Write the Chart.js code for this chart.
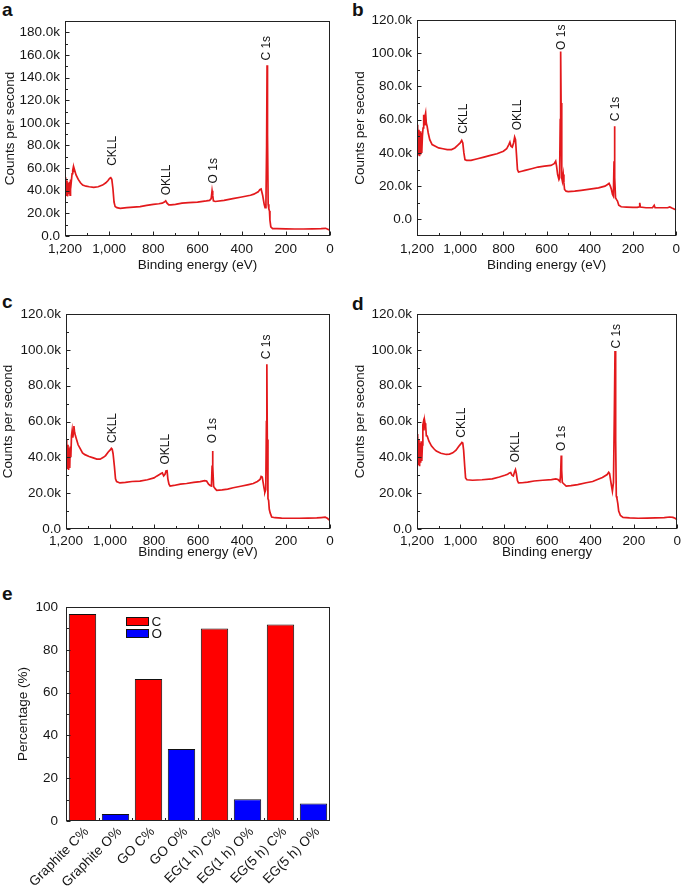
<!DOCTYPE html>
<html>
<head>
<meta charset="utf-8">
<script src="https://cdn.jsdelivr.net/npm/chart.js@4.4.0/dist/chart.umd.min.js"></script>
<style>
    body { margin: 0; background: #fff; width: 685px; height: 889px; position: relative; overflow: hidden; font-family: "Liberation Sans", Arial, sans-serif; }
    canvas { position: absolute; }
    .tag { position: absolute; font-weight: bold; font-size: 19px; color: #111; line-height: 1; }
</style>
</head>
<body>
<div class="tag" style="left:2px;top:0px">a</div>
<div class="tag" style="left:352px;top:0px">b</div>
<div class="tag" style="left:2px;top:292px">c</div>
<div class="tag" style="left:352px;top:294px">d</div>
<div class="tag" style="left:2px;top:584px">e</div>

<canvas id="chartA" width="340" height="280" style="left:0;top:0"></canvas>
<canvas id="chartB" width="345" height="280" style="left:340px;top:0"></canvas>
<canvas id="chartC" width="340" height="290" style="left:0;top:280px"></canvas>
<canvas id="chartD" width="345" height="290" style="left:340px;top:280px"></canvas>
<canvas id="chartE" width="340" height="309" style="left:0;top:580px"></canvas>

<script>
// ---- data: [binding energy (eV), counts per second (k)] ----
const specA = [
    [1200, 52], [1198, 38], [1196, 50], [1193, 36], [1191, 49], [1188, 35], [1186, 47], [1183, 37],
    [1180, 48], [1177, 36], [1175, 50], [1172, 47], [1168, 55], [1165, 58], [1162, 61], [1159, 57],
    [1156, 58], [1150, 54], [1140, 50], [1130, 47], [1120, 45], [1105, 44], [1090, 43.5], [1070, 43],
    [1050, 43.5], [1030, 45], [1015, 47], [1005, 49], [998, 51], [993, 51.5], [988, 50], [983, 42],
    [978, 30], [973, 26], [965, 25], [950, 24.5], [920, 25], [890, 25.5], [860, 26], [830, 27],
    [800, 28], [775, 28.5], [760, 29], [750, 30], [744, 31], [738, 29], [730, 27.5], [720, 27.5],
    [700, 28], [670, 29], [640, 29.5], [600, 30], [560, 31], [545, 31.5], [538, 33], [534, 40],
    [531, 36], [528, 31], [520, 30.5], [480, 31.5], [440, 33], [400, 34.5], [360, 36], [345, 37],
    [335, 38], [325, 39], [318, 41], [312, 41.5], [305, 36], [298, 28], [294, 25], [290, 30],
    [287, 80], [285, 151], [283, 90], [280, 28], [277, 24], [274, 22], [272, 14], [268, 8],
    [260, 6.5], [240, 6.5], [200, 6.3], [160, 6.2], [120, 6.2], [80, 6.3], [40, 6.5], [20, 6.8],
    [10, 6], [0, 5]
];
const specB = [
    [1200, 57], [1198, 40], [1196, 55], [1193, 39], [1191, 54], [1188, 38], [1186, 53], [1183, 39],
    [1181, 52], [1178, 40], [1175, 50], [1172, 55], [1169, 63], [1166, 57], [1163, 62], [1160, 64],
    [1157, 58], [1153, 56], [1148, 52], [1141, 48], [1130, 45], [1115, 44], [1100, 43], [1080, 42.5],
    [1060, 42], [1040, 42], [1025, 43], [1012, 44.5], [1000, 46], [993, 47.5], [988, 46], [983, 40],
    [978, 36], [970, 35.5], [950, 35.5], [920, 36.5], [890, 37.5], [860, 38.5], [830, 39.5], [800, 41],
    [785, 42.5], [775, 45], [770, 46.5], [765, 44], [759, 43.5], [753, 46], [748, 49.5], [744, 48],
    [740, 40], [735, 30], [730, 28.5], [715, 29], [700, 29.5], [670, 30.5], [640, 31.5], [610, 32],
    [580, 32.5], [565, 33.5], [558, 35], [554, 32], [549, 27], [543, 24], [540, 25], [537, 60],
    [535, 101], [533, 70], [530, 25], [527, 23], [523, 27], [520, 22], [517, 18], [510, 17],
    [500, 16.7], [470, 17], [440, 17.5], [400, 18.2], [360, 19], [330, 20], [318, 21], [311, 21.7],
    [305, 20], [300, 18], [295, 15], [291, 14], [288, 35], [286, 56], [284, 25], [281, 13],
    [277, 12], [272, 11], [266, 8.5], [255, 7.6], [230, 7.4], [200, 7.2], [180, 7.2], [172, 7.5],
    [169, 10], [166, 7.4], [140, 7], [110, 7], [102, 8.5], [98, 7], [70, 7], [40, 7],
    [30, 7.5], [20, 6.8], [10, 6.2], [0, 5.6]
];
const specC = [
    [1200, 50], [1198, 35], [1196, 48], [1193, 34], [1191, 47], [1188, 33], [1186, 45], [1183, 34],
    [1181, 46], [1178, 40], [1175, 52], [1172, 55], [1169, 51], [1166, 54], [1164, 57.5], [1161, 54],
    [1157, 52], [1152, 50], [1145, 47], [1136, 45], [1125, 42.5], [1114, 41.5], [1095, 40.5], [1076, 39.7],
    [1060, 39], [1045, 39], [1030, 40], [1020, 41], [1008, 43], [1000, 44], [994, 45], [990, 44.5],
    [986, 42], [980, 35], [975, 28], [970, 26.5], [955, 25.7], [930, 26], [900, 26.5], [864, 26.7],
    [830, 27.5], [800, 28.5], [788, 29.5], [775, 30.4], [768, 31], [762, 31.3], [756, 29.6], [750, 30.5],
    [745, 32.5], [741, 33], [737, 28], [732, 25], [727, 24], [710, 24.3], [680, 25], [652, 25.4],
    [620, 26], [590, 26.4], [570, 27], [561, 26.8], [552, 25], [545, 24.3], [539, 24], [536, 35],
    [534, 43.5], [532, 35], [529, 23.8], [522, 22.5], [515, 21.6], [490, 21.8], [465, 22.3], [440, 23],
    [400, 24], [370, 24.8], [349, 25.4], [330, 26.5], [318, 27.6], [313, 29.3], [308, 29], [304, 26],
    [300, 23], [296, 20.5], [292, 22], [289, 60], [287, 92], [285, 50], [282, 17], [279, 16],
    [276, 11], [272, 9], [265, 6.7], [250, 6.3], [220, 6.1], [180, 6.0], [140, 6.0], [100, 6.1],
    [60, 6.2], [40, 6.4], [22, 6.6], [12, 6.0], [0, 4.7]
];
const specD = [
    [1200, 53], [1198, 37], [1196, 51], [1193, 36], [1191, 50], [1188, 35], [1186, 48], [1183, 37],
    [1181, 49], [1178, 38], [1175, 47], [1173, 58], [1171, 59.3], [1168, 55], [1165, 60.5], [1163, 59],
    [1160, 57.5], [1157, 52], [1153, 51.9], [1145, 49], [1133, 46.3], [1120, 44.5], [1111, 43.5], [1090, 42.3],
    [1065, 41.6], [1050, 41.8], [1035, 42.5], [1020, 44], [1008, 46], [998, 47.5], [993, 48.3], [989, 48],
    [985, 44], [980, 35], [976, 28.5], [970, 27.5], [944, 27.2], [900, 27.5], [853, 28], [820, 29],
    [795, 30], [782, 30.6], [774, 31.3], [768, 31.5], [762, 30], [756, 29.6], [750, 32], [746, 33.2],
    [742, 31], [737, 27], [732, 25.7], [715, 25.8], [690, 26.2], [660, 26.8], [620, 27.2], [580, 27.6],
    [560, 28], [550, 27.6], [545, 27], [541, 26.5], [538, 30], [535, 41], [533, 33], [530, 26],
    [525, 25.4], [512, 23.9], [490, 24.2], [459, 24.8], [420, 25.8], [390, 26.5], [368, 27.6], [345, 28.7],
    [323, 30.4], [316, 31.7], [312, 31], [307, 27], [303, 24], [299, 21.1], [294, 26], [290, 65],
    [287, 99.4], [284, 50], [281, 18.3], [278, 17], [274, 14.2], [270, 10], [262, 7.5], [250, 6.5],
    [220, 6.2], [180, 6.0], [140, 6.1], [100, 6.2], [60, 6.4], [35, 6.7], [20, 6.5], [10, 6],
    [0, 5.2]
];

// peak labels: [text, energy, counts (k) at the start of the text]
const peaksA = [['CKLL', 986, 62], ['OKLL', 739, 36], ['O 1s', 528, 46.5], ['C 1s', 286, 155]];
const peaksB = [['CKLL', 982, 51.6], ['OKLL', 735, 53.6], ['O 1s', 532, 102], ['C 1s', 280, 59]];
const peaksC = [['CKLL', 989, 48], ['OKLL', 747, 36], ['O 1s', 533, 47.8], ['C 1s', 288, 94.8]];
const peaksD = [['CKLL', 992, 51], ['OKLL', 743, 37.3], ['O 1s', 535, 43.5], ['C 1s', 280, 100.7]];

// tick values
const energyTicks = [1200, 1000, 800, 600, 400, 200, 0];
const countTicksA = [0, 20, 40, 60, 80, 100, 120, 140, 160, 180];
const countTicks = [0, 20, 40, 60, 80, 100, 120];
const percentTicks = [0, 20, 40, 60, 80, 100];

// panel e
const sampleLabels = ['Graphite C%', 'Graphite O%', 'GO C%', 'GO O%', 'EG(1 h) C%', 'EG(1 h) O%', 'EG(5 h) C%', 'EG(5 h) O%'];
const carbonPct = [96.7, null, 66.3, null, 89.9, null, 91.8, null];
const oxygenPct = [null, 3.3, null, 33.7, null, 10.2, null, 8.2];

const FONT = '"Liberation Sans", Arial, Helvetica, sans-serif';
const TEXT = '#151515';
const LINE_RED = '#e3191c';
const FS = 13.5;
Chart.defaults.font.family = FONT;
Chart.defaults.color = TEXT;

// box around the plot and inward ticks (major + minor)
function makeFramePlugin(xCategory) {
    return {
        id: 'frame',
        afterDraw(chart) {
            const { ctx, chartArea: a, scales } = chart;
            const L = Math.round(a.left) + 0.5, R = Math.round(a.right) - 0.5;
            const T = Math.round(a.top) + 0.5, B = Math.round(a.bottom) - 0.5;
            ctx.save();
            ctx.strokeStyle = '#222';
            ctx.lineWidth = 1;
            ctx.beginPath();
            const tick = (x1, y1, x2, y2) => { ctx.moveTo(x1, y1); ctx.lineTo(x2, y2); };
            // y ticks
            const yv = scales.y.ticks.map(t => t.value);
            yv.forEach((v, i) => {
                const p = Math.round(scales.y.getPixelForValue(v)) + 0.5;
                tick(L, p, L + 4, p);
                if (i < yv.length - 1) {
                    const m = Math.round(scales.y.getPixelForValue((v + yv[i + 1]) / 2)) + 0.5;
                    tick(L, m, L + 2.5, m);
                }
            });
            // x ticks
            if (xCategory) {
                for (let i = 0; i < sampleLabels.length - 1; i++) {
                    const p = Math.round(scales.x.getPixelForValue(i + 0.5)) + 0.5;
                    tick(p, B, p, B - 2.5);
                }
            } else {
                const xv = scales.x.ticks.map(t => t.value);
                xv.forEach((v, i) => {
                    const p = Math.round(scales.x.getPixelForValue(v)) + 0.5;
                    tick(p, B, p, B - 4);
                    if (i < xv.length - 1) {
                        const m = Math.round(scales.x.getPixelForValue((v + xv[i + 1]) / 2)) + 0.5;
                        tick(m, B, m, B - 2.5);
                    }
                });
            }
            ctx.stroke();
            ctx.strokeRect(L, T, R - L, B - T);
            ctx.restore();
        }
    };
}

// vertical peak names placed in data coordinates
function makePeakPlugin(items) {
    return {
        id: 'peaks',
        afterDatasetsDraw(chart) {
            const { ctx, scales: { x, y } } = chart;
            ctx.save();
            ctx.font = '12px ' + FONT;
            ctx.fillStyle = TEXT;
            ctx.textAlign = 'left';
            ctx.textBaseline = 'middle';
            items.forEach(([txt, e, k]) => {
                ctx.save();
                ctx.translate(x.getPixelForValue(e), y.getPixelForValue(k));
                ctx.rotate(-Math.PI / 2);
                ctx.fillText(txt, 0, 0);
                ctx.restore();
            });
            ctx.restore();
        }
    };
}

function spectrumChart(id, spec, peaks, yTicks, yMin, yMax, xTitle, box) {
    new Chart(document.getElementById(id), {
        type: 'line',
        data: {
            datasets: [{
                data: spec.map(([e, k]) => ({ x: e, y: k })),
                borderColor: LINE_RED,
                borderWidth: 1.7,
                pointRadius: 0,
                tension: 0,
                fill: false
            }]
        },
        options: {
            responsive: false,
            animation: false,
            layout: { padding: { top: box.top, right: box.right, left: 0, bottom: 0 } },
            plugins: { legend: { display: false }, tooltip: { enabled: false } },
            scales: {
                x: {
                    type: 'linear',
                    reverse: true,
                    min: 0,
                    max: 1200,
                    afterBuildTicks: s => { s.ticks = energyTicks.map(v => ({ value: v })); },
                    afterFit: s => { s.height = box.xh; },
                    grid: { display: false, drawTicks: false },
                    border: { display: false },
                    ticks: {
                        font: { size: FS },
                        color: TEXT,
                        padding: box.xlp,
                        maxRotation: 0,
                        autoSkip: false,
                        callback: v => v.toLocaleString('en-US')
                    },
                    title: { display: true, text: xTitle, font: { size: FS }, color: TEXT, padding: { top: 0, bottom: box.xtp } }
                },
                y: {
                    min: yMin,
                    max: yMax,
                    afterBuildTicks: s => { s.ticks = yTicks.map(v => ({ value: v })); },
                    afterFit: s => { s.width = box.yw; },
                    grid: { display: false, drawTicks: false },
                    border: { display: false },
                    ticks: {
                        font: { size: FS },
                        color: TEXT,
                        padding: 5,
                        callback: v => v === 0 ? '0.0' : v.toFixed(1) + 'k'
                    },
                    title: { display: true, text: 'Counts per second', font: { size: FS }, color: TEXT, padding: { top: box.ytp, bottom: 0 } }
                }
            }
        },
        plugins: [makeFramePlugin(false), makePeakPlugin(peaks)]
    });
}

spectrumChart('chartA', specA, peaksA, countTicksA, 0, 190, 'Binding energy (eV)',
    { top: 21, right: 10, xh: 44, yw: 65, xlp: 5, xtp: 7, ytp: 2 });
spectrumChart('chartB', specB, peaksB, countTicks, -10, 120, 'Binding energy (eV)',
    { top: 20, right: 4, xh: 44, yw: 77, xlp: 5, xtp: 7, ytp: 12 });
spectrumChart('chartC', specC, peaksC, countTicks, 0, 120, 'Binding energy (eV)',
    { top: 34, right: 10, xh: 41, yw: 66, xlp: 4, xtp: 10, ytp: 0 });
spectrumChart('chartD', specD, peaksD, countTicks, 0, 120, 'Binding energy',
    { top: 34, right: 4, xh: 41, yw: 77, xlp: 4, xtp: 10, ytp: 12 });

// legend drawn inside the plot of panel e
const barLegendPlugin = {
    id: 'barLegend',
    afterDraw(chart) {
        const { ctx, chartArea: a } = chart;
        ctx.save();
        ctx.font = FS + 'px ' + FONT;
        ctx.textBaseline = 'middle';
        chart.data.datasets.forEach((ds, i) => {
            const x = Math.round(a.left + 60) + 0.5;
            const y = Math.round(a.top + 10 + i * 11.5) + 0.5;
            ctx.fillStyle = ds.backgroundColor;
            ctx.fillRect(x, y, 22, 8);
            ctx.strokeStyle = '#111';
            ctx.strokeRect(x, y, 22, 8);
            ctx.fillStyle = TEXT;
            ctx.fillText(ds.label, x + 25, y + 4.5);
        });
        ctx.restore();
    }
};

new Chart(document.getElementById('chartE'), {
    type: 'bar',
    data: {
        labels: sampleLabels,
        datasets: [
            { label: 'C', data: carbonPct, backgroundColor: '#ff0000', borderColor: '#111', borderWidth: 1 },
            { label: 'O', data: oxygenPct, backgroundColor: '#0000ff', borderColor: '#111', borderWidth: 1 }
        ]
    },
    options: {
        responsive: false,
        animation: false,
        layout: { padding: { top: 27, right: 10, left: 0, bottom: 0 } },
        datasets: { bar: { grouped: false, categoryPercentage: 1, barPercentage: 0.83, borderSkipped: false } },
        plugins: { legend: { display: false }, tooltip: { enabled: false } },
        scales: {
            x: {
                afterFit: s => { s.height = 68; },
                grid: { display: false, drawTicks: false },
                border: { display: false },
                ticks: { font: { size: FS }, color: TEXT, padding: 3, labelOffset: 4, minRotation: 45, maxRotation: 45, autoSkip: false }
            },
            y: {
                min: 0,
                max: 100,
                afterBuildTicks: s => { s.ticks = percentTicks.map(v => ({ value: v })); },
                afterFit: s => { s.width = 66; },
                grid: { display: false, drawTicks: false },
                border: { display: false },
                ticks: { font: { size: FS }, color: TEXT, padding: 8 },
                title: { display: true, text: 'Percentage (%)', font: { size: FS }, color: TEXT, padding: { top: 15, bottom: 0 } }
            }
        }
    },
    plugins: [makeFramePlugin(true), barLegendPlugin]
});
</script>
</body>
</html>
